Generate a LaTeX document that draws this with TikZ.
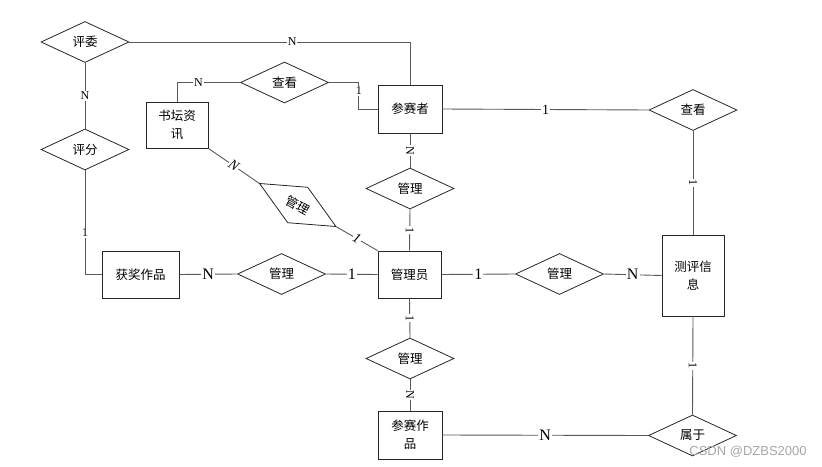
\documentclass[tikz,border=0pt]{standalone}
\usepackage{fontspec}
\usetikzlibrary{shapes.geometric,positioning}
\newfontfamily\cjk{Noto Sans CJK SC}
\newfontfamily\cardfont{Liberation Serif}
\newfontfamily\markfont{Liberation Sans}

\begin{document}
\begin{tikzpicture}[
x=1pt,
y=-1pt,
entity/.style={
  draw=black!85,
  rectangle,
  line width=0.8pt,
  minimum width=63pt,
  minimum height=47pt,
  inner sep=1pt,
  align=center,
  font=\cjk\fontsize{12.5}{18}\selectfont
  },
relation/.style={
  draw=black!85,
  diamond,
  line width=0.8pt,
  minimum width=88pt,
  minimum height=41pt,
  inner sep=0pt,
  font=\cjk\fontsize{12.5}{18}\selectfont
  },
link/.style={
  draw=black!65,
  line width=0.9pt
  },
card/.style={
  fill=white,
  inner sep=1pt,
  font=\cardfont\fontsize{12}{12}\selectfont
  },
bigcard/.style={
  card,
  font=\cardfont\fontsize{16}{16}\selectfont
  }
]
\useasboundingbox (0,0) rectangle (822,466);

\node[relation] (pingwei) at (85,42) {评委};
\node[relation] (pingfen) at (85,149.5) {评分};
\node[relation] (chakan) at (284.5,82.5) {查看};
\node[relation] (chakan2) at (693,110) {查看};
\node[relation] (guanli1) at (410,188.5) {管理};
\node[relation, rotate=-29.4] (guanli2) at (297.75,205) {管理};
\node[relation] (guanli3) at (281.5,274) {管理};
\node[relation] (guanli4) at (559.5,274) {管理};
\node[relation] (guanli5) at (410,358.5) {管理};
\node[relation] (shuyu) at (692.5,435.5) {属于};

\node[entity, minimum width=64pt, minimum height=48pt] (cansai) at (410,109) {参赛者};
\node[entity, minimum width=62pt, minimum height=46pt] (shutan) at (177,125) {书坛资\\讯};
\node[entity, minimum width=77pt] (huojiang) at (140.5,274.5) {获奖作品};
\node[entity] (admin) at (409.5,274.5) {管理员};
\node[entity, minimum width=62pt, minimum height=81pt] (ceping) at (693,275.5) {测评信\\息};
\node[entity, minimum width=64pt, minimum height=48pt] (zuopin) at (410,435) {参赛作\\品};

\draw[link] (pingwei.east) -| node[card, pos=0.29] {N} (cansai.north);
\draw[link] (pingwei.south) -- node[card] {N} (pingfen.north);
\draw[link] (pingfen.south) |- node[card, pos=0.3] {1} (huojiang.west);
\draw[link] (chakan.west) -| node[card, pos=0.33] {N} (shutan.north);
\draw[link] (chakan.east) -- ++(30,0) |- node[card, pos=0.16] {1} (cansai.west);
\draw[link] (cansai.east) -- node[card, font=\cardfont\fontsize{14}{14}\selectfont] {1} (chakan2.west);
\draw[link] (chakan2.south) -- node[card, rotate=-90] {1} (ceping.north);
\draw[link] (cansai.south) -- node[card, rotate=-90] {N} (guanli1.north);
\draw[link] (guanli1.south) -- node[card, rotate=-90] {1} (admin.north);
\draw[link] (shutan.south east) -- node[card, sloped, font=\cardfont\itshape\fontsize{14}{14}\selectfont] {N} (guanli2.west);
\draw[link] (guanli2.east) -- node[card, sloped, font=\cardfont\itshape\fontsize{14}{14}\selectfont] {1} (admin.north west);
\draw[link] (huojiang.east) -- node[bigcard] {N} (guanli3.west);
\draw[link] (guanli3.east) -- node[bigcard] {1} (admin.west);
\draw[link] (admin.east) -- node[bigcard] {1} (guanli4.west);
\draw[link] (guanli4.east) -- node[bigcard] {N} (ceping.west);
\draw[link] (admin.south) -- node[card, rotate=-90] {1} (guanli5.north);
\draw[link] (guanli5.south) -- node[card, rotate=-90] {N} (zuopin.north);
\draw[link] (zuopin.east) -- node[bigcard] {N} (shuyu.west);
\draw[link] (ceping.south) -- node[card, rotate=-90] {1} (shuyu.north);

\node[font=\markfont\fontsize{13}{13}\selectfont, text=black!35] (mark) at (748,452) {CSDN @DZBS2000};
\end{tikzpicture}
\end{document}
